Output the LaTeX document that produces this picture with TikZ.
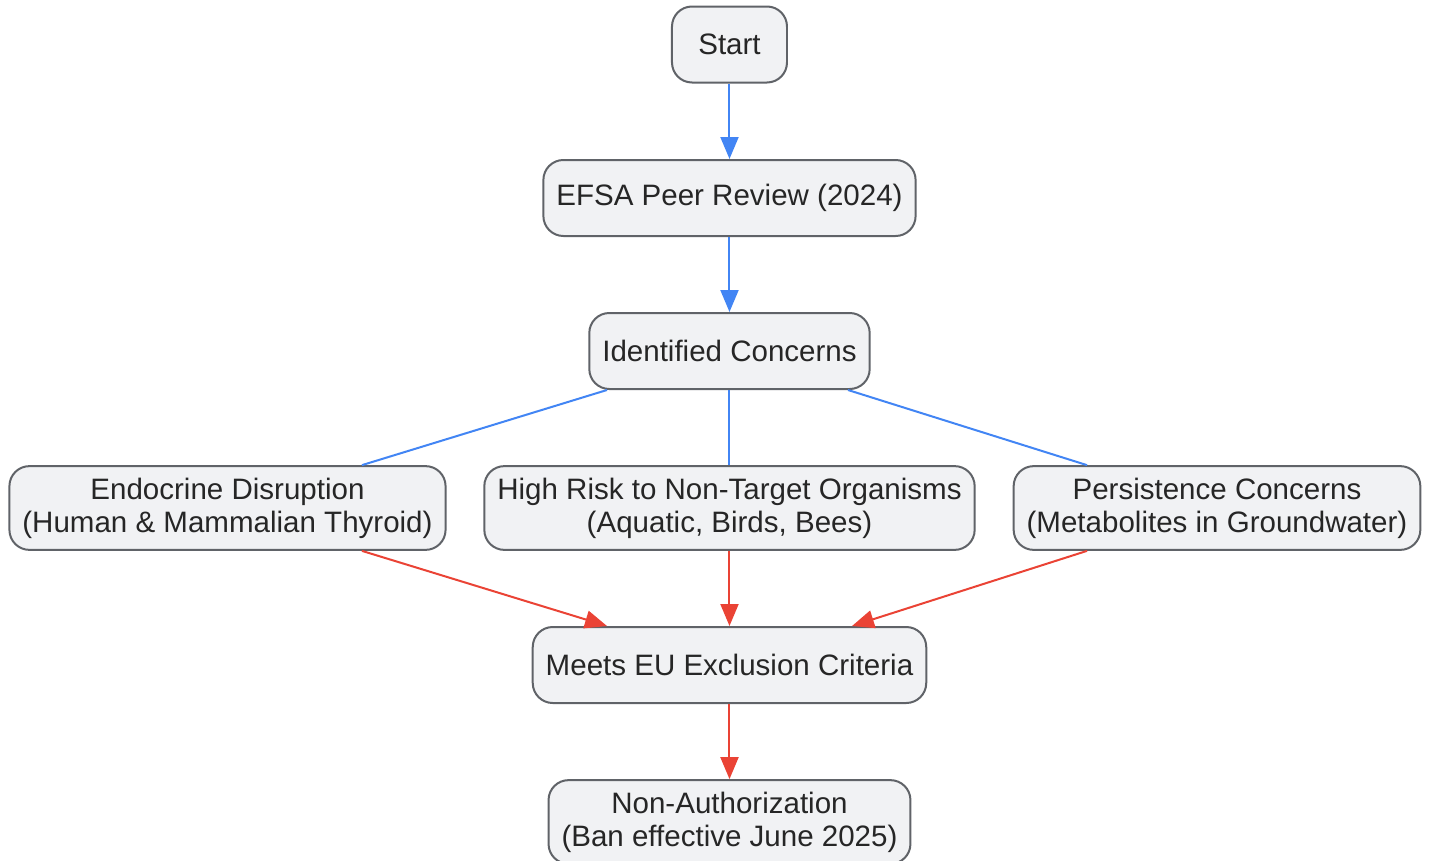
\documentclass[tikz,border=0pt]{standalone}
\usepackage{fontspec}
\setmainfont{Liberation Sans}
\usepackage{xcolor}
\usepackage{tikz}
\usetikzlibrary{arrows.meta,positioning}
\definecolor{paso}{HTML}{F1F2F4}
\definecolor{borde}{HTML}{606368}
\definecolor{azul}{HTML}{4285F4}
\definecolor{rojo}{HTML}{EA4335}
\definecolor{texto}{HTML}{262626}

\begin{document}
\begin{tikzpicture}[-{Triangle[length=0.44cm,width=0.36cm]}, line width=0.04cm, node distance=3.14cm]
    \tikzset{caja/.style={draw=borde,fill=paso,text=texto,rounded corners=0.4cm,align=center,
        inner xsep=0.26cm,inner ysep=6.6pt,minimum height=1.52cm,
        font=\fontsize{16.8}{18.8}\selectfont}}
    \tikzset{azul/.style={draw=azul,fill=azul}}
    \tikzset{rojo/.style={draw=rojo,fill=rojo}}
    \useasboundingbox (-14.59,0.89) rectangle (14.01,-16.31);

    % Arriba
    \node[caja,minimum width=2.3cm] (inicio)                            {Start};
    \node[caja]         (efsa)     [below of=inicio, node distance=3.07cm] {EFSA Peer Review (2024)};
    \node[caja]         (dudas)    [below of=efsa, node distance=3.06cm]   {Identified Concerns};

    % Las tres razones
    \node[caja]         (riesgo)   [below of=dudas]                     {High Risk to Non-Target Organisms\\(Aquatic, Birds, Bees)};
    \node[caja]         (endo)     [left of=riesgo, node distance=10.04cm]  {Endocrine Disruption\\(Human \& Mammalian Thyroid)};
    \node[caja]         (persist)  [right of=riesgo, node distance=9.75cm]  {Persistence Concerns\\(Metabolites in Groundwater)};

    % Abajo
    \node[caja]         (criterio) [below of=riesgo]                    {Meets EU Exclusion Criteria};
    \node[caja]         (prohib)   [below of=criterio]                  {Non-Authorization\\(Ban effective June 2025)};

    % Flechas azules
    \draw[azul] (inicio) -- (efsa);
    \draw[azul] (efsa) -- (dudas);
    \draw[azul,-] ([xshift=-2.45cm]dudas.south) -- ([xshift=2.69cm]endo.north);
    \draw[azul,-] (dudas) -- (riesgo);
    \draw[azul,-] ([xshift=2.37cm]dudas.south) -- ([xshift=-2.6cm]persist.north);

    % Flechas rojas
    \draw[rojo] ([xshift=2.69cm]endo.south) -- ([xshift=-2.45cm]criterio.north);
    \draw[rojo] (riesgo) -- (criterio);
    \draw[rojo] ([xshift=-2.6cm]persist.south) -- ([xshift=2.45cm]criterio.north);
    \draw[rojo] (criterio) -- (prohib);
\end{tikzpicture}
\end{document}
